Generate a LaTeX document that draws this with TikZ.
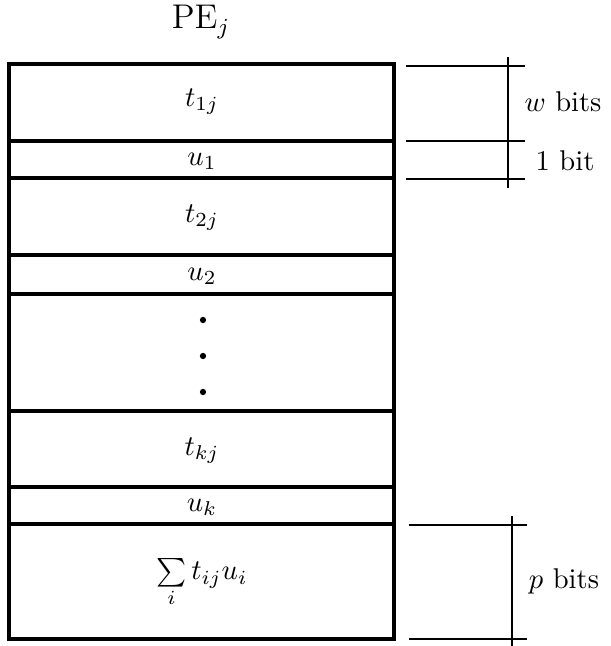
\documentclass[tikz,border=0pt]{standalone}
\begin{document}
\begin{tikzpicture}[x=0.35pt,y=-0.35pt,
  outer/.style={line width=1.1pt},
  divider/.style={line width=1.4pt},
  tick/.style={line width=0.7pt},
  lbl/.style={inner sep=0pt},
  dotmark/.style={circle,fill=black,inner sep=0pt,minimum size=2.2pt}]
\useasboundingbox (0,0) rectangle (611,646);
% column
\coordinate (tl) at (9,64);
\coordinate (br) at (394,639);
\draw[outer] (tl) rectangle (br);
\foreach \y/\n in {141/a,178/b,255/c,294/d,411/e,487/f,524/g}{
  \coordinate (L\n) at (9,\y);
  \coordinate (R\n) at (394,\y);
  \draw[divider] (L\n) -- (R\n);
}
% labels
\node[lbl,font=\large] (pe) at (201,22) {$\mathrm{PE}_j$};
\node[lbl] (t1) at (202,102) {$t_{1j}$};
\node[lbl] (u1) at (202,161) {$u_1$};
\node[lbl] (t2) at (202,218) {$t_{2j}$};
\node[lbl] (u2) at (202,276) {$u_2$};
\node[dotmark] (d1) at (203,320) {};
\node[dotmark] (d2) at (203,356) {};
\node[dotmark] (d3) at (203,392) {};
\node[lbl] (tk) at (202,451) {$t_{kj}$};
\node[lbl] (uk) at (202,507) {$u_k$};
\node[lbl] (sum) at (202,583) {$\sum\limits_i t_{ij}u_i$};
% top dimension lines
\coordinate (h1a) at (406,66);  \coordinate (h1b) at (525,66);
\coordinate (h2a) at (406,141); \coordinate (h2b) at (525,141);
\coordinate (h3a) at (406,179); \coordinate (h3b) at (525,179);
\coordinate (v1a) at (508,57);  \coordinate (v1b) at (508,188);
\draw[tick] (h1a) -- (h1b);
\draw[tick] (h2a) -- (h2b);
\draw[tick] (h3a) -- (h3b);
\draw[tick] (v1a) -- (v1b);
\node[lbl] (wb) at (563,102) {$w$ bits};
\node[lbl] (ob) at (565,161) {1 bit};
% bottom dimension lines
\coordinate (h4a) at (409,525); \coordinate (h4b) at (527,525);
\coordinate (h5a) at (409,639); \coordinate (h5b) at (527,639);
\coordinate (v2a) at (512,516); \coordinate (v2b) at (512,646);
\draw[tick] (h4a) -- (h4b);
\draw[tick] (h5a) -- (h5b);
\draw[tick] (v2a) -- (v2b);
\node[lbl] (pb) at (564,581) {$p$ bits};
\end{tikzpicture}
\end{document}
